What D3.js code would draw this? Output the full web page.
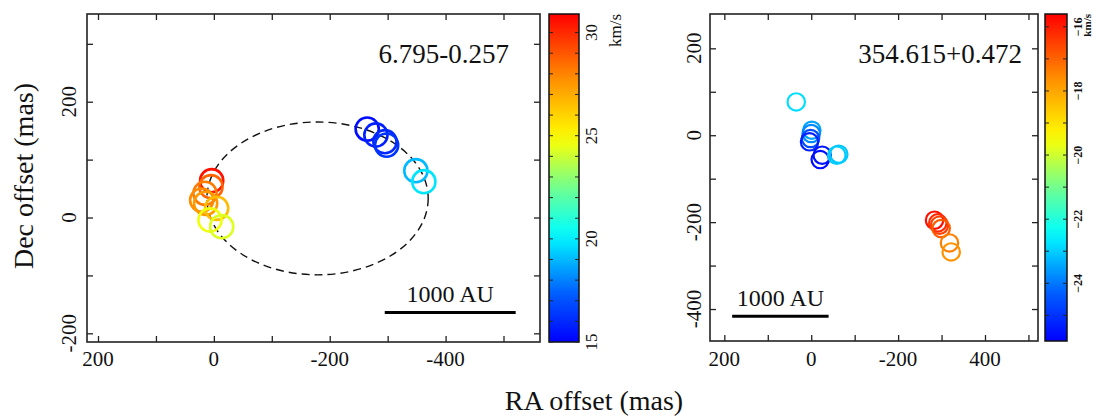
<!DOCTYPE html>
<html>
<head>
<meta charset="utf-8">
<script src="https://cdn.jsdelivr.net/npm/d3@7"></script>
<style>
  body { margin: 0; background: #fff; }
  svg { display: block; }
  text { font-family: "Liberation Serif", "Times New Roman", serif; fill: #111; }
</style>
</head>
<body>
<svg id="chart" width="1093" height="416"></svg>
<script>
// ---- left source: 6.795-0.257 ----
const leftRA  = [3.8, 5, 15.4, 21, 14.2, -4.8, 6.7, -13.5, -264.7, -279.7, -295.3, -298.2, -348.7, -362.5];
const leftDec = [63.6, 53.2, 41.8, 30.2, 24.5, 15.9, -4.3, -15.9, 152.8, 142.5, 131, 125, 80.8, 61.8];
const leftVel = [30.5, 28.7, 28.2, 27.8, 27.5, 26.6, 24.6, 24.3, 15.3, 15.8, 16.0, 16.3, 19.0, 19.8];
const leftEllipseCenter = [-179, 33];
const leftEllipseRadii = [191, 132];
const leftBar = [-295, -521];          // 1000 AU in mas
const leftXTicks = [200, 100, 0, -100, -200, -300, -400, -500];
const leftXLabels = ["200", "0", "-200", "-400"];
const leftYTicks = [-200, -100, 0, 100, 200, 300];
const leftYLabels = ["-200", "0", "200"];
const leftCbTicks = [15, 16, 17, 18, 19, 20, 21, 22, 23, 24, 25, 26, 27, 28, 29, 30];
const leftCbLabels = [15, 20, 25, 30];

// ---- right source: 354.615+0.472 ----
const rightRA  = [34.5, -1.4, 0, 1.6, 3.9, -25.3, -20.7, -63.5, -58.9, -283.8, -291.4, -295.3, -299.2, -318.3, -322.2];
const rightDec = [76.6, 11.5, 3.9, -7.6, -15.2, -46, -56, -43.7, -46, -195.6, -201.8, -207.1, -214.7, -247.9, -268.6];
const rightVel = [-22.8, -23.5, -23.8, -24.6, -25.3, -25.5, -25.6, -23.1, -23.0, -15.8, -16.2, -16.5, -16.9, -17.4, -17.7];
const rightBar = [182, -40];
const rightXTicks = [200, 100, 0, -100, -200, -300, -400, -500];
const rightXLabels = ["200", "0", "-200", "400"];
const rightYTicks = [-400, -300, -200, -100, 0, 100, 200];
const rightYLabels = ["-400", "-200", "0", "200"];
const rightCbTicks = [-25, -24, -23, -22, -21, -20, -19, -18, -17, -16];
const rightCbLabels = [-24, -22, -20, -18, -16];

const spotRadius = 20; // mas

const svg = d3.select("#chart");
const defs = svg.append("defs");

// jet-like colour map
const jet = d3.scaleLinear()
  .domain([0, 0.15, 0.33, 0.47, 0.62, 0.8, 1])
  .range(["#0000ff", "#0060ff", "#00ffff", "#70ff90", "#ffff00", "#ff9000", "#ff0000"]);

const grad = defs.append("linearGradient")
  .attr("id", "jet").attr("x1", 0).attr("y1", 1).attr("x2", 0).attr("y2", 0);
d3.range(0, 1.0001, 0.05).forEach((t) => {
  grad.append("stop").attr("offset", t).attr("stop-color", jet(t));
});

function inwardAxes(g, x, y, xTicks, yTicks, box) {
  g.append("g").attr("transform", `translate(0,${box.b})`)
    .call(d3.axisBottom(x).tickValues(xTicks).tickSize(-6).tickFormat(""));
  g.append("g").attr("transform", `translate(0,${box.t})`)
    .call(d3.axisTop(x).tickValues(xTicks).tickSize(-6).tickFormat(""));
  g.append("g").attr("transform", `translate(${box.l},0)`)
    .call(d3.axisLeft(y).tickValues(yTicks).tickSize(-6).tickFormat(""));
  g.append("g").attr("transform", `translate(${box.r},0)`)
    .call(d3.axisRight(y).tickValues(yTicks).tickSize(-6).tickFormat(""));
  g.selectAll(".domain").remove();
  g.selectAll(".tick line").attr("stroke", "#222").attr("stroke-width", 1.3);
}

function panel(cfg) {
  const box = cfg.box;
  const g = svg.append("g");
  const x = d3.scaleLinear().domain(cfg.xDomain).range([box.l, box.r]);
  const y = d3.scaleLinear().domain(cfg.yDomain).range([box.b, box.t]);
  const vDom = cfg.cbDomain;
  const color = (v) => jet((v - vDom[0]) / (vDom[1] - vDom[0]));

  inwardAxes(g, x, y, cfg.xTicks, cfg.yTicks, box);

  // tick labels
  cfg.xLabels.forEach((s) => {
    g.append("text").attr("x", x(+s === 400 ? -400 : +s)).attr("y", 366)
      .attr("text-anchor", "middle").attr("font-size", 21).text(s);
  });
  cfg.yLabels.forEach((s) => {
    g.append("text")
      .attr("transform", `translate(${cfg.yLabelX},${y(+s)}) rotate(-90)`)
      .attr("text-anchor", "middle").attr("font-size", 21).text(s);
  });

  // ellipse
  if (cfg.ellipse) {
    const [cx, cy] = cfg.ellipse.center;
    const [rx, ry] = cfg.ellipse.radii;
    g.append("ellipse")
      .attr("cx", x(cx)).attr("cy", y(cy))
      .attr("rx", Math.abs(x(cx + rx) - x(cx)))
      .attr("ry", Math.abs(y(cy + ry) - y(cy)))
      .attr("fill", "none").attr("stroke", "#111")
      .attr("stroke-width", 1.4).attr("stroke-dasharray", "8,5");
  }

  // maser spots
  const pxR = Math.abs(x(spotRadius) - x(0));
  g.append("g").selectAll("circle")
    .data(cfg.ra.map((d, i) => ({ ra: d, dec: cfg.dec[i], v: cfg.vel[i] })))
    .join("circle")
    .attr("cx", (d) => x(d.ra)).attr("cy", (d) => y(d.dec))
    .attr("r", pxR).attr("fill", "none")
    .attr("stroke", (d) => color(d.v)).attr("stroke-width", cfg.ringWidth);

  // frame
  g.append("rect").attr("x", box.l).attr("y", box.t)
    .attr("width", box.r - box.l).attr("height", box.b - box.t)
    .attr("fill", "none").attr("stroke", "#222").attr("stroke-width", 1.6);

  // name
  g.append("text").attr("x", cfg.nameX).attr("y", 63)
    .attr("text-anchor", "end").attr("font-size", 27).text(cfg.name);

  // scale bar
  const by = y(cfg.barDec);
  g.append("line").attr("x1", x(cfg.bar[0])).attr("x2", x(cfg.bar[1]))
    .attr("y1", by).attr("y2", by).attr("stroke", "#000").attr("stroke-width", 3);
  g.append("text").attr("x", (x(cfg.bar[0]) + x(cfg.bar[1])) / 2).attr("y", by - 10)
    .attr("text-anchor", "middle").attr("font-size", 24).text("1000 AU");

  // colour bar
  const cb = cfg.cb;
  const cy = d3.scaleLinear().domain(vDom).range([cb.b, cb.t]);
  g.append("rect").attr("x", cb.l).attr("y", cb.t)
    .attr("width", cb.r - cb.l).attr("height", cb.b - cb.t)
    .attr("fill", "url(#jet)").attr("stroke", "#111").attr("stroke-width", 1.5);
  cfg.cbTicks.forEach((v) => {
    g.append("line").attr("x1", cb.l).attr("x2", cb.l + 4)
      .attr("y1", cy(v)).attr("y2", cy(v)).attr("stroke", "#222").attr("stroke-width", 1);
    g.append("line").attr("x1", cb.r - 4).attr("x2", cb.r)
      .attr("y1", cy(v)).attr("y2", cy(v)).attr("stroke", "#222").attr("stroke-width", 1);
  });
  cfg.cbLabels.forEach((v) => {
    g.append("text")
      .attr("transform", `translate(${cfg.cbLabelX},${cy(v)}) rotate(-90)`)
      .attr("text-anchor", "middle").attr("font-size", cfg.cbFont.size)
      .attr("font-family", cfg.cbFont.family).attr("font-weight", cfg.cbFont.weight)
      .text(cfg.cbFormat(v));
  });
  g.append("text")
    .attr("transform", `translate(${cfg.unitX},${cb.t}) rotate(-90)`)
    .attr("text-anchor", "end").attr("font-size", cfg.unitSize)
    .attr("font-family", cfg.cbFont.family).attr("font-weight", cfg.cbFont.weight)
    .text("km/s");
}

panel({
  box: { l: 87, r: 540, t: 14, b: 342 },
  xDomain: [219, -563], yDomain: [-215, 351.5],
  xTicks: leftXTicks, yTicks: leftYTicks,
  xLabels: leftXLabels, yLabels: leftYLabels, yLabelX: 76,
  ra: leftRA, dec: leftDec, vel: leftVel, ringWidth: 2.6,
  ellipse: { center: leftEllipseCenter, radii: leftEllipseRadii },
  name: "6.795-0.257", nameX: 509,
  bar: leftBar, barDec: -164,
  cb: { l: 549, r: 579, t: 14, b: 342 }, cbDomain: [15, 30.9],
  cbTicks: leftCbTicks, cbLabels: leftCbLabels, cbLabelX: 597,
  cbFont: { size: 17, family: "Liberation Serif", weight: "normal" },
  cbFormat: (v) => String(v), unitX: 621, unitSize: 17,
});

panel({
  box: { l: 710, r: 1038, t: 14, b: 341 },
  xDomain: [233, -522], yDomain: [-473.6, 279],
  xTicks: rightXTicks, yTicks: rightYTicks,
  xLabels: rightXLabels, yLabels: rightYLabels, yLabelX: 701,
  ra: rightRA, dec: rightDec, vel: rightVel, ringWidth: 2.2,
  ellipse: null,
  name: "354.615+0.472", nameX: 1022,
  bar: rightBar, barDec: -416.6,
  cb: { l: 1045, r: 1067, t: 14, b: 341 }, cbDomain: [-25.8, -15.6],
  cbTicks: rightCbTicks, cbLabels: rightCbLabels, cbLabelX: 1082,
  cbFont: { size: 12, family: "Liberation Sans", weight: "bold" },
  cbFormat: (v) => "\u2212" + Math.abs(v), unitX: 1091, unitSize: 11,
});

// shared axis titles
svg.append("text")
  .attr("transform", "translate(33,176) rotate(-90)")
  .attr("text-anchor", "middle").attr("font-size", 28).text("Dec offset (mas)");
svg.append("text").attr("x", 594).attr("y", 410)
  .attr("text-anchor", "middle").attr("font-size", 28).text("RA offset (mas)");
</script>
</body>
</html>
